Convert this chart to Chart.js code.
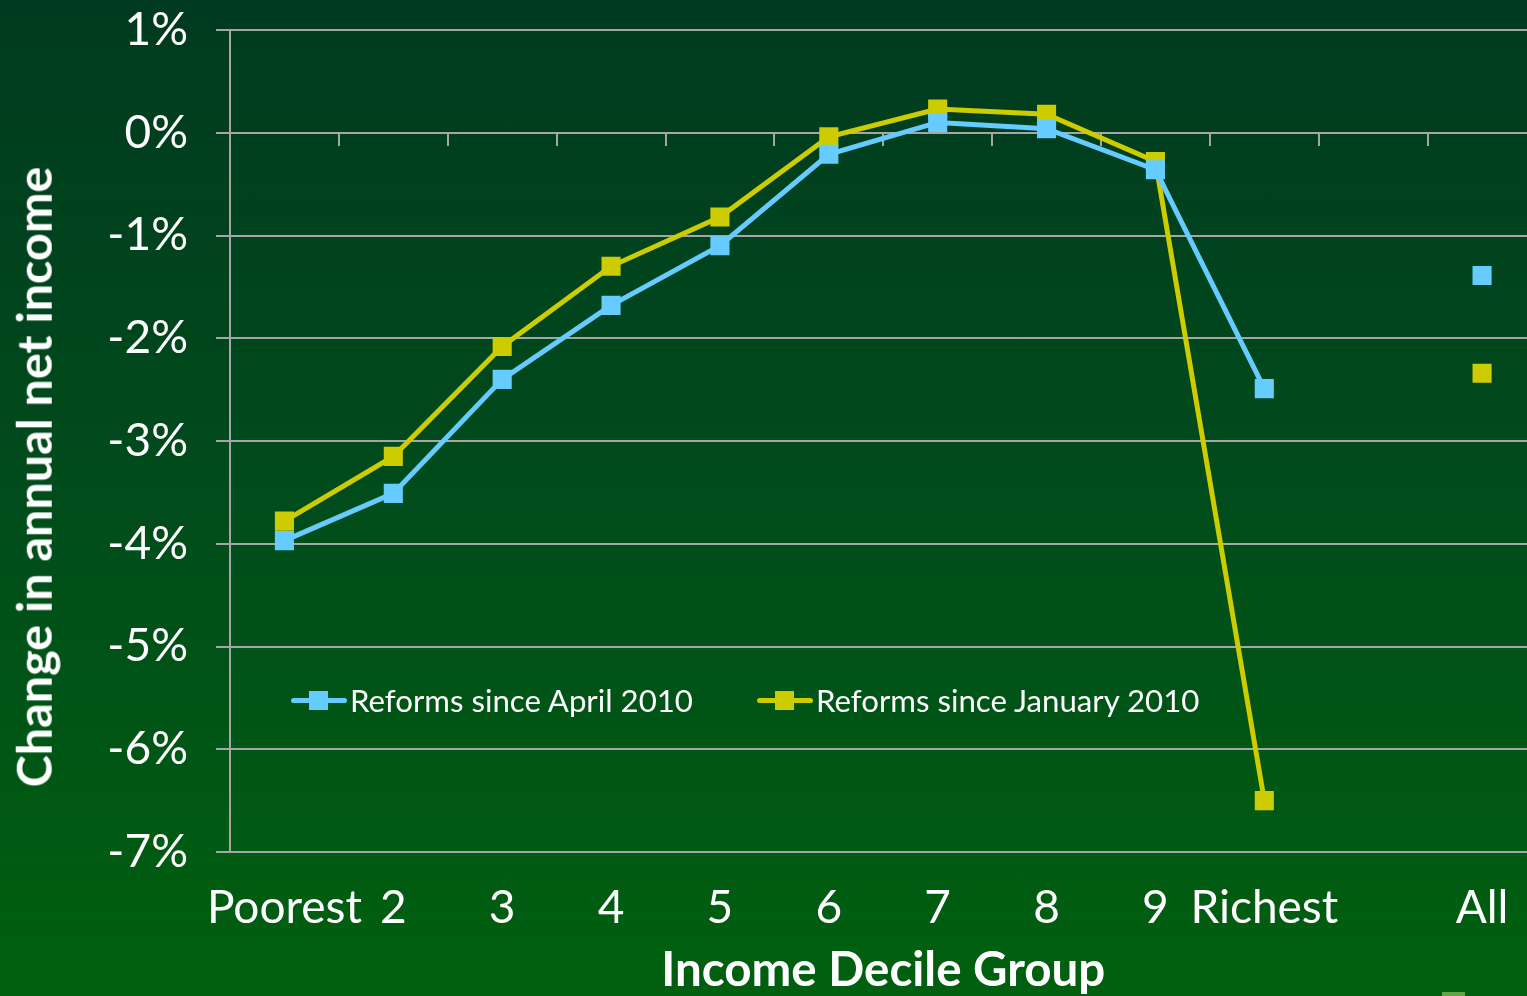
<!DOCTYPE html>
<html><head><meta charset="utf-8">
<script src="https://cdn.jsdelivr.net/npm/chart.js@4.4.1/dist/chart.umd.min.js"></script>
<style>
html,body{margin:0;padding:0;width:1527px;height:996px;overflow:hidden;background:linear-gradient(to bottom,#003a1f 0%,#004a1c 45%,#00600f 100%);}
#wrap{position:absolute;left:0;top:0;width:1550px;height:996px;}
canvas{display:block;}
.ytitle{position:absolute;left:33px;top:477px;transform:translate(-50%,-50%) rotate(-90deg);white-space:nowrap;font-family:Lato,sans-serif;font-weight:bold;font-size:48.5px;color:#fff;line-height:1;}
.leg{position:absolute;top:700px;transform:translateY(-50%);display:flex;align-items:center;font-family:Lato,sans-serif;font-size:31.2px;color:#fff;white-space:nowrap;}
.leg .sw{position:relative;width:56px;height:20px;margin-right:3px;}
.leg .sw .ln{position:absolute;left:0;right:0;top:7.5px;height:5px;border-radius:3px;}
.leg .sw .mk{position:absolute;left:18px;top:0.5px;width:19px;height:19px;}
.artifact{position:absolute;left:1442px;top:992px;width:23px;height:4px;background:#62a548;}
</style>
</head><body>
<div id="wrap"><canvas id="c" width="1550" height="996"></canvas></div>
<div class="ytitle">Change in annual net income</div>
<div id="legend"></div>
<div class="artifact"></div>
<script>
const categories = ['Poorest','2','3','4','5','6','7','8','9','Richest','','All'];
const aprilValues = [-3.97,-3.51,-2.40,-1.68,-1.10,-0.21,0.10,0.04,-0.36,-2.49,null,-1.39];
const januaryValues = [-3.78,-3.15,-2.08,-1.30,-0.82,-0.04,0.23,0.18,-0.28,-6.50,null,-2.34];
const seriesNames = ['Reforms since April 2010','Reforms since January 2010'];
const yMin = -7, yMax = 1, yStep = 1;

const BLUE = '#66ccff', YELLOW = '#cccc00', GRID = '#a6a6a6';

const zeroTicks = {
  id:'zeroTicks',
  beforeDatasetsDraw(chart){
    const x = chart.scales.x, y = chart.scales.y, ctx = chart.ctx;
    const y0 = Math.round(y.getPixelForValue(0));
    ctx.save();
    ctx.strokeStyle = GRID; ctx.lineWidth = 2;
    for(let i=1;i<categories.length;i++){
      const px = Math.round((x.getPixelForValue(i-1)+x.getPixelForValue(i))/2);
      ctx.beginPath(); ctx.moveTo(px,y0); ctx.lineTo(px,y0+13); ctx.stroke();
    }
    ctx.restore();
  }
};

const chart = new Chart(document.getElementById('c'),{
  type:'line',
  data:{
    labels:categories,
    datasets:[
      {label:seriesNames[0],data:aprilValues,borderColor:BLUE,backgroundColor:BLUE,borderWidth:5,pointStyle:'rect',pointRadius:13.5,pointBorderWidth:0,pointBackgroundColor:BLUE,spanGaps:false,tension:0},
      {label:seriesNames[1],data:januaryValues,borderColor:YELLOW,backgroundColor:YELLOW,borderWidth:5,pointStyle:'rect',pointRadius:13.5,pointBorderWidth:0,pointBackgroundColor:YELLOW,spanGaps:false,tension:0}
    ]
  },
  options:{
    responsive:false,
    animation:false,
    layout:{padding:{top:30,right:0,left:0,bottom:0}},
    plugins:{legend:{display:false},tooltip:{enabled:false}},
    scales:{
      x:{
        type:'category',offset:true,
        grid:{display:false},border:{display:false},
        ticks:{color:'#fff',font:{family:'Lato',size:46},padding:21,maxRotation:0,autoSkip:false},
        title:{display:true,text:'Income Decile Group',color:'#fff',font:{family:'Lato',size:47.5,weight:'bold'},padding:{top:0,bottom:-3}},
        afterFit(s){s.height=144;s.paddingLeft=0;s.paddingRight=0;}
      },
      y:{
        min:yMin,max:yMax,
        ticks:{stepSize:yStep,color:'#fff',font:{family:'Lato',size:46},padding:28,callback:v=>v+'%'},
        grid:{color:GRID,lineWidth:2,tickLength:14,tickColor:GRID},
        border:{color:GRID,width:2},
        afterFit(s){s.width=230;s.paddingTop=0;s.paddingBottom=0;}
      }
    }
  },
  plugins:[zeroTicks]
});

// HTML legend from datasets
const legend = document.getElementById('legend');
const legLefts = [291,757];
chart.data.datasets.forEach((ds,i)=>{
  const d = document.createElement('div');
  d.className='leg'; d.style.left=legLefts[i]+'px';
  d.innerHTML='<div class="sw"><div class="ln" style="background:'+ds.borderColor+'"></div><div class="mk" style="background:'+ds.borderColor+'"></div></div><span></span>';
  d.querySelector('span').textContent=ds.label;
  legend.appendChild(d);
});
</script>
</body></html>
